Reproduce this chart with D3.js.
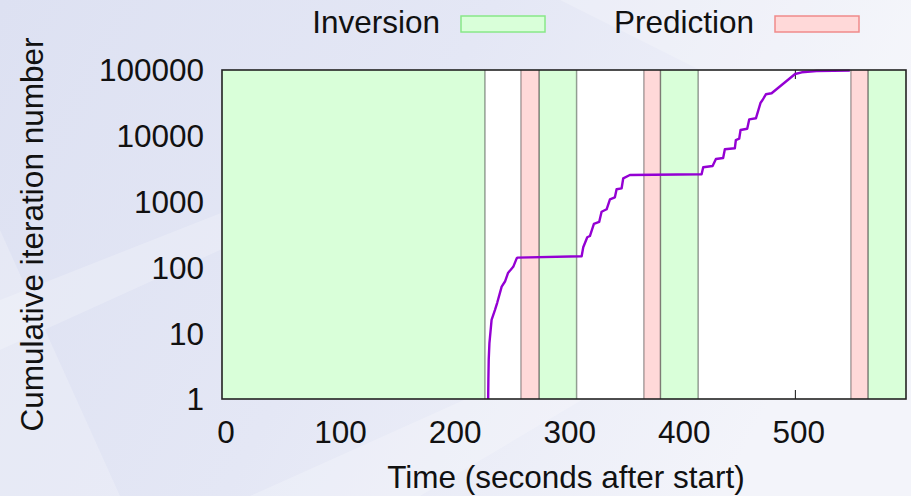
<!DOCTYPE html>
<html>
<head>
<meta charset="utf-8">
<script src="https://cdn.jsdelivr.net/npm/d3@7/dist/d3.min.js"></script>
<style>
  html, body { margin: 0; padding: 0; background: #e6e9f6; }
  svg { display: block; }
  text { font-family: "Liberation Sans", Arial, Helvetica, sans-serif; fill: #111; }
</style>
</head>
<body>
<svg id="chart" width="911" height="496"></svg>
<script>
// Phases of the run (seconds after start)
const inversionStart = [0, 276.6, 382.6, 563.7];
const inversionEnd   = [229.5, 309.5, 415.6, 597];
const predictionStart = [260.9, 368.2, 548.9];
const predictionEnd   = [276.6, 382.6, 563.7];

// Cumulative iteration count over time
const timeSec = [232.3, 232.5, 232.8, 233.4, 235.3, 238.2, 240.2, 244.1, 247.0, 249.6, 254.2, 257.2, 257.9,
  313.9, 315.3, 318.8, 321.1, 324.6, 329.2, 331.3, 335.7, 338.6, 342.9, 344.4, 348.8, 350.2, 356.0,
  418.6, 420.0, 428.2, 431.1, 437.4, 438.9, 447.6, 448.5, 451.4, 452.6, 458.4, 460.2, 466.0, 470.1,
  471.8, 474.7, 479.7, 500.2, 506.0, 518.9, 548.0];
const iterations = [1, 2, 4, 7, 16, 22.5, 29, 51, 61, 82, 102, 137, 141,
  148, 202, 287, 300, 457, 490, 702, 764, 1083, 1162, 1538, 1592, 2260, 2536,
  2600, 3320, 3475, 4440, 4600, 6235, 6460, 8630, 9035, 12250, 12820, 17800, 18450, 31850,
  35000, 42750, 44250, 86950, 92300, 96600, 97700];

const xTicks = [0, 100, 200, 300, 400, 500];
const yTicks = [1, 10, 100, 1000, 10000, 100000];
const xDomain = [0, 597];
const yDomain = [1, 100000];

const svg = d3.select("#chart");
const W = 911, H = 496;
const m = { left: 222, right: 906, top: 70, bottom: 399 };

// ---- soft desktop-style backdrop ----
const defs = svg.append("defs");
const bg = defs.append("linearGradient").attr("id", "bg")
  .attr("x1", "0").attr("y1", "0").attr("x2", "1").attr("y2", "0.3");
bg.append("stop").attr("offset", "0").attr("stop-color", "#dde1f2");
bg.append("stop").attr("offset", "0.5").attr("stop-color", "#e4e7f5");
bg.append("stop").attr("offset", "1").attr("stop-color", "#f3f4fa");
svg.append("rect").attr("width", W).attr("height", H).attr("fill", "url(#bg)");
const streaks = [
  [[0, 300], [330, 170], [330, 200], [0, 350]],
  [[250, 496], [620, 330], [700, 330], [420, 496]],
  [[560, 0], [911, 0], [911, 140], [700, 70]],
  [[0, 230], [120, 496], [0, 496]]
];
svg.append("g").selectAll("polygon").data(streaks).join("polygon")
  .attr("points", d => d.map(p => p.join(",")).join(" "))
  .attr("fill", "#ffffff").attr("opacity", 0.22);

// ---- scales ----
const x = d3.scaleLinear().domain(xDomain).range([m.left, m.right]);
const y = d3.scaleLog().domain(yDomain).range([m.bottom, m.top]);

// plot background
svg.append("rect").attr("x", m.left).attr("y", m.top)
  .attr("width", m.right - m.left).attr("height", m.bottom - m.top)
  .attr("fill", "#ffffff");

// tick marks (drawn beneath the phase fills)
const tickLen = 9;
const xAxisB = d3.axisTop(x).tickValues(xTicks).tickSize(tickLen).tickFormat("");
const xAxisT = d3.axisBottom(x).tickValues(xTicks).tickSize(tickLen).tickFormat("");
svg.append("g").attr("transform", `translate(0,${m.bottom})`).call(xAxisB)
  .call(g => g.select(".domain").remove())
  .selectAll("line").attr("stroke", "#111");
svg.append("g").attr("transform", `translate(0,${m.top})`).call(xAxisT)
  .call(g => g.select(".domain").remove())
  .selectAll("line").attr("stroke", "#111");

// ---- phase bands ----
const invBands = inversionStart.map((s, i) => ({ s, e: inversionEnd[i] }));
const preBands = predictionStart.map((s, i) => ({ s, e: predictionEnd[i] }));

function drawBands(bands, fill, edge) {
  const g = svg.append("g");
  g.selectAll("rect").data(bands).join("rect")
    .attr("x", d => x(d.s)).attr("y", m.top)
    .attr("width", d => x(d.e) - x(d.s)).attr("height", m.bottom - m.top)
    .attr("fill", fill);
  const edges = bands.flatMap(d => [d.s, d.e]).filter(v => v > xDomain[0] && v < xDomain[1]);
  g.selectAll("line").data(edges).join("line")
    .attr("x1", d => x(d)).attr("x2", d => x(d))
    .attr("y1", m.top).attr("y2", m.bottom)
    .attr("stroke", edge).attr("stroke-width", 1.5);
}
drawBands(invBands, "#d9ffd9", "rgba(40,40,40,0.45)");
drawBands(preBands, "#ffd9d9", "rgba(40,40,40,0.4)");

// ---- iteration curve ----
const pts = timeSec.map((t, i) => [t, iterations[i]]);
const line = d3.line().x(d => x(d[0])).y(d => y(d[1]));
svg.append("path").datum(pts)
  .attr("d", line)
  .attr("fill", "none")
  .attr("stroke", "#9400d3")
  .attr("stroke-width", 2.4)
  .attr("stroke-linejoin", "round");

// frame
svg.append("rect").attr("x", m.left).attr("y", m.top)
  .attr("width", m.right - m.left).attr("height", m.bottom - m.top)
  .attr("fill", "none").attr("stroke", "#222").attr("stroke-width", 1.6);

// ---- tick labels ----
const fs = 31.5;
svg.append("g").selectAll("text").data(xTicks).join("text")
  .attr("x", d => x(d) + 4).attr("y", 443)
  .attr("text-anchor", "middle").attr("font-size", fs)
  .text(d => d);
svg.append("g").selectAll("text").data(yTicks).join("text")
  .attr("x", 204).attr("y", d => y(d)).attr("dy", "0.36em")
  .attr("text-anchor", "end").attr("font-size", fs)
  .text(d => d);

// ---- axis titles ----
svg.append("text").attr("x", (m.left + m.right) / 2 + 2).attr("y", 488)
  .attr("text-anchor", "middle").attr("font-size", fs)
  .text("Time (seconds after start)");
svg.append("text")
  .attr("transform", `translate(43,${(m.top + m.bottom) / 2}) rotate(-90)`)
  .attr("text-anchor", "middle").attr("font-size", fs)
  .text("Cumulative iteration number");

// ---- legend ----
const legend = [
  { label: "Inversion", textEnd: 440, boxX: 461, fill: "#d9ffd9", stroke: "#88e888" },
  { label: "Prediction", textEnd: 754, boxX: 775, fill: "#ffd9d9", stroke: "#f08a8a" }
];
const lg = svg.append("g");
lg.selectAll("text").data(legend).join("text")
  .attr("x", d => d.textEnd).attr("y", 33)
  .attr("text-anchor", "end").attr("font-size", fs)
  .text(d => d.label);
lg.selectAll("rect").data(legend).join("rect")
  .attr("x", d => d.boxX).attr("y", 16)
  .attr("width", 84).attr("height", 16)
  .attr("fill", d => d.fill).attr("stroke", d => d.stroke).attr("stroke-width", 1.5);
</script>
</body>
</html>
